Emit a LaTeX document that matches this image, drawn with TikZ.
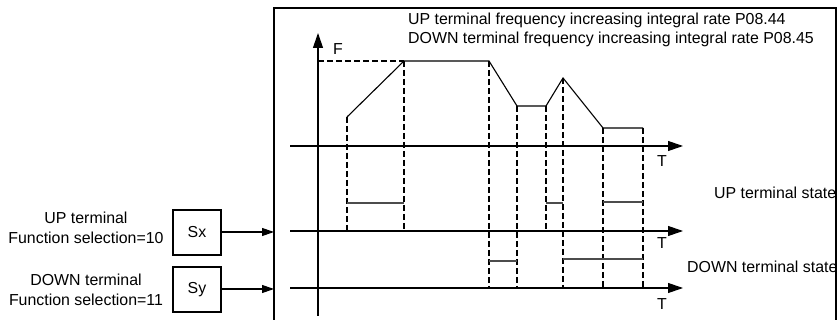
\documentclass[tikz,border=0pt]{standalone}
\usepackage{fontspec}
\setmainfont{Liberation Sans}
\usetikzlibrary{arrows.meta}
\begin{document}
\begin{tikzpicture}[x=1pt,y=-1pt,
  font=\fontsize{15.9}{20}\selectfont,
  axisarrow/.style={line width=1.1pt,-{Triangle[length=15pt,width=10pt]}},
  inarrow/.style={line width=1.1pt,-{Triangle[length=12pt,width=8pt]}},
  dsh/.style={line width=1.8pt,dash pattern=on 6pt off 3pt},
  pulse/.style={line width=1.2pt,draw=black!70},
  wave/.style={line width=1.1pt},
  blk/.style={draw,line width=1.1pt,minimum width=48pt,minimum height=45pt,inner sep=0pt},
  lbl/.style={inner sep=0pt}]
\clip (0,0) rectangle (838,320);
% outer frame (open at bottom)
\draw[line width=1.1pt] (274,330) -- (274,8) -- (836,8) -- (836,330);
% top texts
\node[lbl,anchor=west] (t1) at (408,20) {UP terminal frequency increasing integral rate P08.44};
\node[lbl,anchor=west] (t2) at (408,39) {DOWN terminal frequency increasing integral rate P08.45};
% F axis
\coordinate (fbot) at (318,316);
\coordinate (ftop) at (318,33);
\draw[axisarrow] (fbot) -- (ftop);
\node[lbl] (flab) at (338,49) {F};
% time axes
\coordinate (a1s) at (290,146); \coordinate (a1e) at (683,146);
\coordinate (a2s) at (290,231); \coordinate (a2e) at (683,231);
\coordinate (a3s) at (290,288); \coordinate (a3e) at (683,288);
\draw[axisarrow] (a1s) -- (a1e);
\draw[axisarrow] (a2s) -- (a2e);
\draw[axisarrow] (a3s) -- (a3e);
\node[lbl] (T1) at (662,161) {T};
\node[lbl] (T2) at (662,243) {T};
\node[lbl] (T3) at (662,304) {T};
% state labels
\node[lbl,anchor=west] (ups) at (714,193) {UP terminal state};
\node[lbl,anchor=west] (dns) at (687,267) {DOWN terminal state};
% frequency waveform
\draw[wave] (347,117) -- (404,61) -- (489,61) -- (517,106) -- (546,106)
  -- (563,78) -- (603,128) -- (643,128);
% dashed lines
\draw[dsh] (318,61) -- (404,61);
\draw[dsh] (347,117) -- (347,231);
\draw[dsh] (404,61) -- (404,231);
\draw[dsh] (489,61) -- (489,288);
\draw[dsh] (517,106) -- (517,288);
\draw[dsh] (546,106) -- (546,231);
\draw[dsh] (563,78) -- (563,288);
\draw[dsh] (603,128) -- (603,288);
\draw[dsh] (643,128) -- (643,288);
% UP state pulses
\draw[pulse] (347,203) -- (404,203);
\draw[pulse] (546,203) -- (563,203);
\draw[pulse] (603,202) -- (643,202);
% DOWN state pulses
\draw[pulse] (489,261) -- (517,261);
\draw[pulse] (563,259) -- (643,259);
% input blocks
\node[blk] (sx) at (197,232.5) {Sx};
\node[blk] (sy) at (197,289.5) {Sy};
\coordinate (inx) at (274,232);
\coordinate (iny) at (274,289);
\draw[inarrow] (sx.east |- inx) -- (inx);
\draw[inarrow] (sy.east |- iny) -- (iny);
\node[lbl,align=center] (upl) at (86,228) {UP terminal\\Function selection=10};
\node[lbl,align=center] (dnl) at (86,289.5) {DOWN terminal\\Function selection=11};
\end{tikzpicture}
\end{document}
